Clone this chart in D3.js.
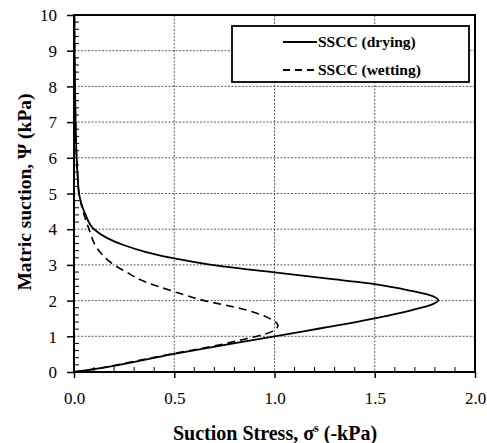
<!DOCTYPE html>
<html><head><meta charset="utf-8">
<script src="https://cdn.jsdelivr.net/npm/d3@7"></script>
<style>body{margin:0;background:#fff}svg{display:block}</style>
</head><body>
<svg id="c" width="487" height="443"></svg>
<script>
// Data (x = suction stress, -kPa ; y = matric suction, kPa)
const dryingStress  = [0.0, 0.1, 0.5, 1.0, 1.5, 1.69, 1.78, 1.817, 1.77, 1.676, 1.5, 1.15, 1.0, 0.678, 0.5, 0.36, 0.25, 0.166, 0.1, 0.058, 0.035, 0.025, 0.018, 0.013, 0.008, 0.005, 0.003, 0.002];
const dryingSuction = [0.0, 0.08, 0.51, 1.0, 1.5, 1.74, 1.88, 2.0, 2.16, 2.28, 2.46, 2.69, 2.79, 3.01, 3.18, 3.36, 3.55, 3.75, 4.0, 4.4, 4.75, 5.0, 5.5, 6.0, 7.0, 8.0, 9.0, 10.0];
const wettingStress  = [0.0, 0.1, 0.3, 0.5, 0.7, 0.85, 0.95, 1.0, 1.017, 0.964, 0.83, 0.65, 0.5, 0.333, 0.258, 0.2, 0.116, 0.075, 0.045, 0.025, 0.018, 0.013, 0.008, 0.005, 0.003, 0.002];
const wettingSuction = [0.0, 0.08, 0.3, 0.52, 0.73, 0.92, 1.06, 1.17, 1.31, 1.53, 1.78, 2.0, 2.25, 2.58, 2.81, 3.0, 3.46, 4.0, 4.5, 5.0, 5.5, 6.0, 7.0, 8.0, 9.0, 10.0];
const xTicks = [0.0, 0.5, 1.0, 1.5, 2.0];
const yTicks = [0,1,2,3,4,5,6,7,8,9,10];
const seriesNames = ["SSCC (drying)", "SSCC (wetting)"];

const svg = d3.select("#c");
const L = 74, R = 475, T = 15, B = 372;
const x = d3.scaleLinear().domain([0, 2]).range([L, R]);
const y = d3.scaleLinear().domain([0, 10]).range([B, T]);
const font = "'Liberation Serif','Times New Roman',serif";

// gridlines
svg.append("g").selectAll("line").data(xTicks.slice(1, -1)).join("line")
  .attr("x1", d => x(d)).attr("x2", d => x(d)).attr("y1", T).attr("y2", B)
  .attr("stroke", "#333").attr("stroke-width", 0.8).attr("stroke-dasharray", "2,1.5");
svg.append("g").selectAll("line").data(yTicks.slice(1, -1)).join("line")
  .attr("y1", d => y(d)).attr("y2", d => y(d)).attr("x1", L).attr("x2", R)
  .attr("stroke", "#333").attr("stroke-width", 0.8).attr("stroke-dasharray", "2,1.5");

// minor ticks (inside)
const xMinor = d3.range(1, 20).map(i => i / 10).filter(v => Math.abs(v * 2 - Math.round(v * 2)) > 1e-6);
const yMinor = d3.range(1, 50).map(i => i / 5).filter(v => Math.abs(v - Math.round(v)) > 1e-6);
svg.append("g").selectAll("line").data(xMinor).join("line")
  .attr("x1", d => x(d)).attr("x2", d => x(d)).attr("y1", B).attr("y2", B - 5)
  .attr("stroke", "#000").attr("stroke-width", 1);
svg.append("g").selectAll("line").data(yMinor).join("line")
  .attr("y1", d => y(d)).attr("y2", d => y(d)).attr("x1", L).attr("x2", L + 5)
  .attr("stroke", "#000").attr("stroke-width", 1);

// axes
const xAxis = d3.axisBottom(x).tickValues(xTicks).tickFormat(d3.format(".1f")).tickSizeInner(6).tickSizeOuter(0).tickPadding(14);
const yAxis = d3.axisLeft(y).tickValues(yTicks).tickFormat(d3.format("d")).tickSizeInner(7).tickSizeOuter(0).tickPadding(10);
const gx = svg.append("g").attr("transform", `translate(0,${B})`).call(xAxis);
const gy = svg.append("g").attr("transform", `translate(${L},0)`).call(yAxis);
[gx, gy].forEach(g => {
  g.select(".domain").remove();
  g.selectAll(".tick line").attr("stroke", "#000").attr("stroke-width", 1.5);
  g.selectAll(".tick text").attr("font-family", font).attr("font-size", 17).attr("fill", "#000");
});
gy.selectAll(".tick text").attr("dy", "0.34em");

// curves (y is monotonic along each path)
const line = d3.line().x(d => x(d[0])).y(d => y(d[1])).curve(d3.curveMonotoneY);
const dry = d3.zip(dryingStress, dryingSuction);
const wet = d3.zip(wettingStress, wettingSuction);
svg.append("path").datum(wet).attr("d", line).attr("fill", "none")
  .attr("stroke", "#000").attr("stroke-width", 1.6).attr("stroke-dasharray", "8,5");
svg.append("path").datum(dry).attr("d", line).attr("fill", "none")
  .attr("stroke", "#000").attr("stroke-width", 1.8);

// frame
svg.append("rect").attr("x", L).attr("y", T).attr("width", R - L).attr("height", B - T)
  .attr("fill", "none").attr("stroke", "#000").attr("stroke-width", 2);

// legend
const lg = svg.append("g");
lg.append("rect").attr("x", 232).attr("y", 26).attr("width", 237).attr("height", 56)
  .attr("fill", "#fff").attr("stroke", "#000").attr("stroke-width", 1.8);
seriesNames.forEach((n, i) => {
  const yy = 42 + i * 28;
  lg.append("line").attr("x1", 283).attr("x2", 317).attr("y1", yy).attr("y2", yy)
    .attr("stroke", "#000").attr("stroke-width", 1.8)
    .attr("stroke-dasharray", i ? "7,5" : null);
  lg.append("text").attr("x", 318).attr("y", yy + 5).text(n)
    .attr("font-family", font).attr("font-size", 15.5).attr("font-weight", "bold");
});

// titles
const xt = svg.append("text").attr("x", 275).attr("y", 440).attr("text-anchor", "middle")
  .attr("font-family", font).attr("font-size", 20).attr("font-weight", "bold");
xt.append("tspan").text("Suction Stress, σ");
xt.append("tspan").text("s").attr("font-size", 12).attr("dy", -8);
xt.append("tspan").text(" (-kPa)").attr("dy", 8);

svg.append("text").attr("transform", "translate(31,192) rotate(-90)").attr("text-anchor", "middle")
  .attr("font-family", font).attr("font-size", 19.5).attr("font-weight", "bold")
  .text("Matric suction, Ψ (kPa)");
</script>
</body></html>
